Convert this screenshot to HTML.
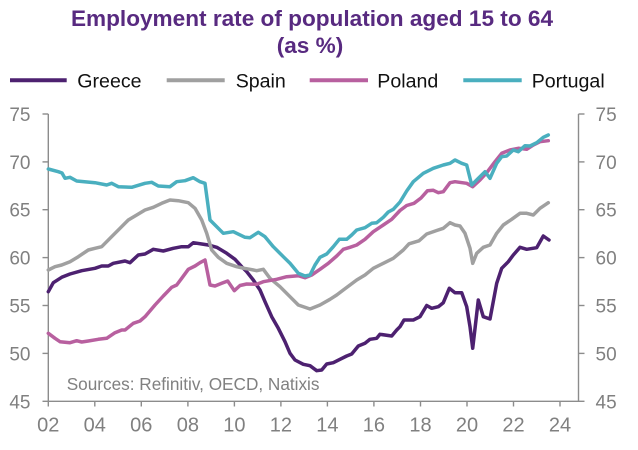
<!DOCTYPE html>
<html>
<head>
<meta charset="utf-8">
<style>
  html, body { margin:0; padding:0; background:#ffffff; }
  body { width:638px; height:450px; overflow:hidden; }
  svg { display:block; }
  text { font-family: "Liberation Sans", Arial, sans-serif; }
</style>
</head>
<body>
<svg width="638" height="450" viewBox="0 0 638 450" xmlns="http://www.w3.org/2000/svg">
  <rect x="0" y="0" width="638" height="450" fill="#ffffff"/>

  <!-- Title -->
  <text x="312" y="26" text-anchor="middle" font-size="22.6" font-weight="bold" fill="#582a80">Employment rate of population aged 15 to 64</text>
  <text x="310" y="53" text-anchor="middle" font-size="22.6" font-weight="bold" fill="#582a80">(as %)</text>

  <!-- Legend -->
  <line x1="10" y1="80.3" x2="66.7" y2="80.3" stroke="#4d2170" stroke-width="4"/>
  <text x="77.3" y="87.3" font-size="19.6" fill="#111">Greece</text>
  <line x1="166.7" y1="80.3" x2="224.7" y2="80.3" stroke="#a0a0a0" stroke-width="4"/>
  <text x="235.7" y="87.3" font-size="19.6" fill="#111">Spain</text>
  <line x1="309.7" y1="80.3" x2="368" y2="80.3" stroke="#b8609f" stroke-width="4"/>
  <text x="377.3" y="87.3" font-size="19.6" fill="#111">Poland</text>
  <line x1="463.3" y1="80.3" x2="521.7" y2="80.3" stroke="#4aafbf" stroke-width="4"/>
  <text x="531.7" y="87.3" font-size="19.6" fill="#111">Portugal</text>

  <!-- Axes -->
  <g stroke="#8c8c8c" stroke-width="1.4" fill="none">
    <line x1="48.3" y1="114" x2="48.3" y2="401.3"/>
    <line x1="578.5" y1="114" x2="578.5" y2="401.3"/>
    <line x1="48.3" y1="401.3" x2="578.5" y2="401.3"/>
    <!-- left ticks -->
    <line x1="42.5" y1="114" x2="48.3" y2="114"/>
    <line x1="42.5" y1="161.9" x2="48.3" y2="161.9"/>
    <line x1="42.5" y1="209.7" x2="48.3" y2="209.7"/>
    <line x1="42.5" y1="257.6" x2="48.3" y2="257.6"/>
    <line x1="42.5" y1="305.5" x2="48.3" y2="305.5"/>
    <line x1="42.5" y1="353.4" x2="48.3" y2="353.4"/>
    <line x1="42.5" y1="401.3" x2="48.3" y2="401.3"/>
    <!-- right ticks -->
    <line x1="578.5" y1="114" x2="584.5" y2="114"/>
    <line x1="578.5" y1="161.9" x2="584.5" y2="161.9"/>
    <line x1="578.5" y1="209.7" x2="584.5" y2="209.7"/>
    <line x1="578.5" y1="257.6" x2="584.5" y2="257.6"/>
    <line x1="578.5" y1="305.5" x2="584.5" y2="305.5"/>
    <line x1="578.5" y1="353.4" x2="584.5" y2="353.4"/>
    <line x1="578.5" y1="401.3" x2="584.5" y2="401.3"/>
    <!-- bottom ticks -->
    <line x1="48.3" y1="401.3" x2="48.3" y2="406.5"/>
    <line x1="94.8" y1="401.3" x2="94.8" y2="406.5"/>
    <line x1="141.3" y1="401.3" x2="141.3" y2="406.5"/>
    <line x1="187.9" y1="401.3" x2="187.9" y2="406.5"/>
    <line x1="234.4" y1="401.3" x2="234.4" y2="406.5"/>
    <line x1="280.9" y1="401.3" x2="280.9" y2="406.5"/>
    <line x1="327.4" y1="401.3" x2="327.4" y2="406.5"/>
    <line x1="373.9" y1="401.3" x2="373.9" y2="406.5"/>
    <line x1="420.5" y1="401.3" x2="420.5" y2="406.5"/>
    <line x1="467.0" y1="401.3" x2="467.0" y2="406.5"/>
    <line x1="513.5" y1="401.3" x2="513.5" y2="406.5"/>
    <line x1="560.0" y1="401.3" x2="560.0" y2="406.5"/>
  </g>

  <!-- Left y labels -->
  <g font-size="19" fill="#808080" text-anchor="end">
    <text x="30.5" y="121">75</text>
    <text x="30.5" y="168.9">70</text>
    <text x="30.5" y="216.7">65</text>
    <text x="30.5" y="264.6">60</text>
    <text x="30.5" y="312.5">55</text>
    <text x="30.5" y="360.4">50</text>
    <text x="30.5" y="408.3">45</text>
  </g>
  <!-- Right y labels -->
  <g font-size="19" fill="#808080" text-anchor="start">
    <text x="595.5" y="121">75</text>
    <text x="595.5" y="168.9">70</text>
    <text x="595.5" y="216.7">65</text>
    <text x="595.5" y="264.6">60</text>
    <text x="595.5" y="312.5">55</text>
    <text x="595.5" y="360.4">50</text>
    <text x="595.5" y="408.3">45</text>
  </g>
  <!-- X labels -->
  <g font-size="20" fill="#808080" text-anchor="middle">
    <text x="48.3" y="431.7">02</text>
    <text x="94.8" y="431.7">04</text>
    <text x="141.3" y="431.7">06</text>
    <text x="187.9" y="431.7">08</text>
    <text x="234.4" y="431.7">10</text>
    <text x="280.9" y="431.7">12</text>
    <text x="327.4" y="431.7">14</text>
    <text x="373.9" y="431.7">16</text>
    <text x="420.5" y="431.7">18</text>
    <text x="467.0" y="431.7">20</text>
    <text x="513.5" y="431.7">22</text>
    <text x="560.0" y="431.7">24</text>
  </g>

  <!-- Sources -->
  <text x="66.7" y="390" font-size="17.2" fill="#808080">Sources: Refinitiv, OECD, Natixis</text>

  <!-- Series -->
  <g fill="none" stroke-width="3.5" stroke-linejoin="round" stroke-linecap="round">
    <!-- Greece -->
    <polyline stroke="#4d2170" points="48.3,291.7 53.3,282.7 61.7,277.3 70,274 81.7,270.7 95,268.3 101.7,266 108.3,266 113.3,263.3 125,261 130,262.7 138.3,255 145,254 153.3,249.3 163.3,251 173.3,248.3 181.7,246.7 188.3,246.7 193.3,242.7 201.7,244 208.3,245 216.7,247.3 226.7,253.3 235,259.3 241.7,266.7 246.7,271.7 253.3,280 260,290 265,301.7 271.7,316.7 278.3,328.3 285,341.7 290,353.3 295,360 303.3,364.3 310,365.7 316.7,370.7 321.7,370 326.7,364 333.3,362.7 340,359.3 346.7,356 351.7,354 358.3,346 365,343.3 370,339.3 376.7,338.3 380,334.3 391.7,336 396.7,330 400,326.7 404,320 413.3,320 420,316.7 426.7,305.5 431.7,308.3 438.3,306.7 443.3,302.7 449.3,288.3 455,292.7 461.7,292.7 466.7,306.7 470,326.7 472.7,348.3 476,320 478.3,300 483.3,316.7 490,319 496.7,283.3 501.7,268.3 508.3,261.7 513.3,255 520,247.3 526.7,249.3 536.7,247.7 543.3,236 549,240"/>
    <!-- Spain -->
    <polyline stroke="#a0a0a0" points="48.3,270 55,266.7 61.7,265 70,261.7 78.3,256.7 88.3,250 95,248.3 101.7,246.7 110,238.3 120,228.3 128.3,220 136.7,215 145,210 153.3,207.3 161.7,203.3 170,200 178.3,200.7 188.3,202.7 195,208.3 201.7,220 206.7,233.3 211.7,250 218.3,257.3 226.7,263.3 236.7,266.7 245,268.5 250,269.3 256.7,270.7 263.3,269.3 270,278.3 280,286.7 290,296.7 298.3,305 310,309 320,305 330,299.3 336.7,295 343.3,290 350,285 356.7,280 365,275 373.3,268.3 383.3,263.3 393.3,258.3 403.3,250 409,243.8 419,240.8 426.7,234 436.7,230.5 443.3,228.3 450,222.7 455,225 460,226 465,233.3 470,248.3 472.7,263.3 476.7,253.3 483.3,247.3 490,245 496.7,233.3 503.3,225 511.7,219.3 520,213.3 526.7,213.3 533.3,215 540,208.3 548.3,202.7"/>
    <!-- Poland -->
    <polyline stroke="#b8609f" points="48.3,333.3 55,338.3 60,341.7 70,342.7 76.7,340.7 81.7,342 88.3,341 98.3,339.3 106.7,338.3 115,332.7 121.7,330 125,330 133.3,323.3 140,321 145,316.7 155,305 163.3,296 171.7,287.3 176.7,285 181.7,278.3 188.3,269.3 195,266 200,262.7 205,260 210,285 215,286 221.7,283.3 227.7,281 234.3,290.7 240,285.5 246.7,284 256.7,284.3 263.3,281.7 276.7,279.3 286.7,276.7 298.3,275.7 305,277.7 311.7,275 320,269.3 328.3,263.3 336.7,256 343.3,249.3 350,247.3 356.7,245 365,239.3 373.3,231.7 383.3,225 391.7,219.3 400,210.5 406.7,205.5 414,203.3 421,198 427.5,190.7 433.3,190.3 438.3,192.7 443.3,191.7 450,182.7 455,181.7 466.7,183.3 472.7,186.7 480,180 486.7,172.7 495,161.7 501.7,153.3 510,150 518.3,148.3 526.7,149.3 533.3,145 540,141.7 548.3,140.7"/>
    <!-- Portugal -->
    <polyline stroke="#4aafbf" points="48.3,169 58.3,171.7 62,173 65,178.3 70,177.3 76.7,181 95,182.7 106.7,185 111.7,183.3 118.3,186.7 131.7,187.3 145,183.3 151.7,182.3 158.3,186 170,186.7 176.7,181.7 185,180.7 193.3,177.7 200,181.7 205,183.3 210,220 215,225 223.3,233.3 233.3,231.7 245,237.3 250,237.7 258.3,232.3 265,236.7 273.3,246.7 283.3,256.7 290,263.3 298.3,273.3 305,276 310,275 315,265 320,257.3 326.7,254 333.3,246.7 339.3,239.3 346.7,239.3 351.7,235 356.7,230 365,227.7 371.7,223.3 376.7,222.7 383.3,217.3 388.3,212 393.3,209.3 400,202 406.7,191 413.3,181.7 423.3,173.3 433.3,168.3 443.3,165 450,163.3 455,160 461.7,163.3 466.7,165 471.7,185 478.3,178.3 485,171.7 490,178.3 496.7,163.3 501.7,156.7 506.7,156 513.3,150 518.3,151.7 525,145.7 530,146 536.7,142.7 543.3,137.3 548.3,135"/>
  </g>
</svg>
</body>
</html>
